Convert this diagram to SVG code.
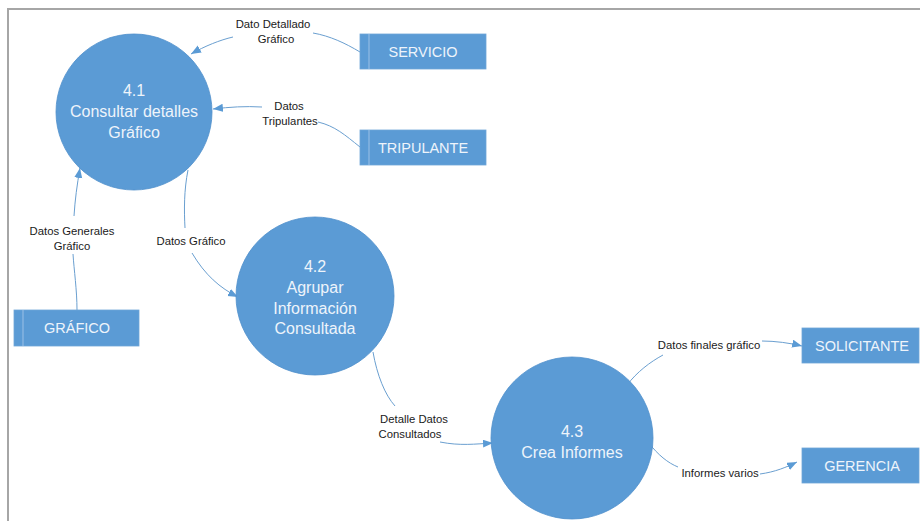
<svg xmlns="http://www.w3.org/2000/svg" width="920" height="521" viewBox="0 0 920 521">
  <style>
    .proc { fill: #5b9bd5; stroke: #4f8fcc; stroke-width: 0.8; }
    .store { fill: #5b9bd5; stroke: #6fa5d8; stroke-width: 0.8; }
    .divider { stroke: #9cc0e6; stroke-width: 1; }
    .ptext { font-family: "Liberation Sans", Arial, sans-serif; font-size: 16px; fill: #eef4fb; text-anchor: middle; }
    .stext { font-family: "Liberation Sans", Arial, sans-serif; font-size: 14.5px; fill: #eef4fb; text-anchor: middle; }
    .lbl { font-family: "Liberation Sans", Arial, sans-serif; font-size: 11.3px; fill: #1a1a1a; text-anchor: middle; }
    .flow { fill: none; stroke: #6a9fd0; stroke-width: 1; }
    .frame { fill: none; stroke: #a6a6a6; stroke-width: 2; }
  </style>
  <defs>
    <marker id="arrow" markerUnits="userSpaceOnUse" markerWidth="12" markerHeight="10" refX="10" refY="4" orient="auto">
      <path d="M0,0 L10,4 L0,8 Z" fill="#5b9bd5"/>
    </marker>
  </defs>

  <rect width="920" height="521" fill="#ffffff"/>
  <path class="frame" d="M8,521 L8,9 L920,9"/>

  <!-- data flows -->
  <g id="connectors">
    <path class="flow" d="M360,52 C345,43 330,36 313,33"/>
    <path class="flow" d="M233,37 C220,40 205,46 191,54" marker-end="url(#arrow)"/>

    <path class="flow" d="M360,147 C345,135 335,126 318,122"/>
    <path class="flow" d="M262,107 C245,106 230,107 213,109" marker-end="url(#arrow)"/>

    <path class="flow" d="M77,310 C77,290 74,270 73,254"/>
    <path class="flow" d="M74,216 C75,200 77,185 80,168" marker-end="url(#arrow)"/>

    <path class="flow" d="M188,170 C184,190 184,210 185,228"/>
    <path class="flow" d="M192,253 C205,275 220,288 238,297" marker-end="url(#arrow)"/>

    <path class="flow" d="M373,352 C377,375 385,395 395,406"/>
    <path class="flow" d="M440,442 C460,446 475,444 493,443" marker-end="url(#arrow)"/>

    <path class="flow" d="M627,385 C637,372 650,362 663,355"/>
    <path class="flow" d="M762,341 C775,341 790,343 802,346" marker-end="url(#arrow)"/>

    <path class="flow" d="M648,442 C658,455 668,463 678,467"/>
    <path class="flow" d="M760,474 C775,472 787,467 797,462" marker-end="url(#arrow)"/>
  </g>

  <!-- flow labels -->
  <g id="labels">
    <text class="lbl" x="273" y="28">Dato Detallado</text>
    <text class="lbl" x="276" y="43">Gráfico</text>
    <text class="lbl" x="289" y="110">Datos</text>
    <text class="lbl" x="290" y="125">Tripulantes</text>
    <text class="lbl" x="72" y="235">Datos Generales</text>
    <text class="lbl" x="72" y="250">Gráfico</text>
    <text class="lbl" x="191" y="245">Datos Gráfico</text>
    <text class="lbl" x="414" y="423">Detalle Datos</text>
    <text class="lbl" x="410" y="438">Consultados</text>
    <text class="lbl" x="709" y="349">Datos finales gráfico</text>
    <text class="lbl" x="720" y="477">Informes varios</text>
  </g>

  <!-- processes -->
  <g id="p41">
    <circle class="proc" cx="134" cy="112" r="78"/>
    <text class="ptext" x="134" y="96">4.1</text>
    <text class="ptext" x="134" y="117">Consultar detalles</text>
    <text class="ptext" x="134" y="138">Gráfico</text>
  </g>
  <g id="p42">
    <circle class="proc" cx="315" cy="296" r="79"/>
    <text class="ptext" x="315" y="272">4.2</text>
    <text class="ptext" x="315" y="293">Agrupar</text>
    <text class="ptext" x="315" y="314">Información</text>
    <text class="ptext" x="315" y="334">Consultada</text>
  </g>
  <g id="p43">
    <circle class="proc" cx="572" cy="438" r="81"/>
    <text class="ptext" x="572" y="437">4.3</text>
    <text class="ptext" x="572" y="458">Crea Informes</text>
  </g>

  <!-- data stores -->
  <g id="servicio">
    <rect class="store" x="360" y="34" width="126" height="35"/>
    <line class="divider" x1="369" y1="34" x2="369" y2="69"/>
    <text class="stext" x="423" y="57">SERVICIO</text>
  </g>
  <g id="tripulante">
    <rect class="store" x="360" y="130" width="126" height="35"/>
    <line class="divider" x1="369" y1="130" x2="369" y2="165"/>
    <text class="stext" x="423" y="153">TRIPULANTE</text>
  </g>
  <g id="grafico">
    <rect class="store" x="14" y="310" width="125" height="36"/>
    <line class="divider" x1="23" y1="310" x2="23" y2="346"/>
    <text class="stext" x="77" y="333">GRÁFICO</text>
  </g>

  <!-- external entities -->
  <g id="solicitante">
    <rect class="store" x="802" y="328" width="117" height="35"/>
    <text class="stext" x="862" y="351">SOLICITANTE</text>
  </g>
  <g id="gerencia">
    <rect class="store" x="802" y="448" width="117" height="35"/>
    <text class="stext" x="862" y="471">GERENCIA</text>
  </g>
</svg>
